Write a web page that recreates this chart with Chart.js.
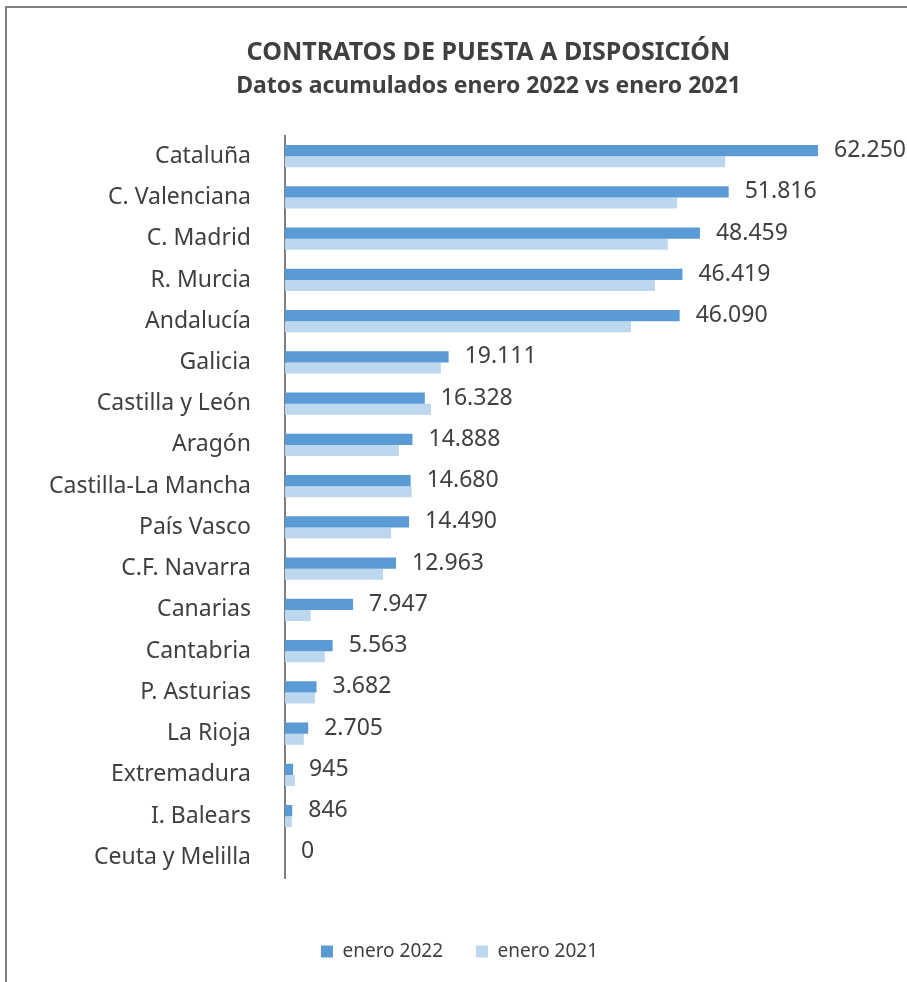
<!DOCTYPE html>
<html>
<head>
<meta charset="utf-8">
<script src="https://cdn.jsdelivr.net/npm/chart.js@4.4.1/dist/chart.umd.min.js"></script>
<style>
  html, body { margin: 0; padding: 0; background: #fff; overflow: hidden; }
  #frame {
    position: absolute; left: 5px; top: 6px;
    width: 963px; height: 1000px;
    border: 2px solid #7f7f7f; background: #fff;
  }
  #contractsChart { display: block; }
</style>
</head>
<body>
<div id="frame"><canvas id="contractsChart"></canvas></div>
<script>
const regions = [
  "Cataluña", "C. Valenciana", "C. Madrid", "R. Murcia", "Andalucía",
  "Galicia", "Castilla y León", "Aragón", "Castilla-La Mancha", "País Vasco",
  "C.F. Navarra", "Canarias", "Cantabria", "P. Asturias", "La Rioja",
  "Extremadura", "I. Balears", "Ceuta y Melilla"
];
const enero2022 = [62250, 51816, 48459, 46419, 46090, 19111, 16328, 14888, 14680, 14490, 12963, 7947, 5563, 3682, 2705, 945, 846, 0];
const enero2021 = [51400, 45800, 44700, 43200, 40400, 18200, 17050, 13300, 14800, 12400, 11450, 3000, 4650, 3500, 2200, 1150, 800, 0];
const seriesNames = ["enero 2022", "enero 2021"];

const textColor = "#404040";
const fontFamily = '"Noto Sans", sans-serif';

// 62250 -> "62.250", 846 -> "846"
function fmt(v) {
  return String(v).replace(/\B(?=(\d{3})+(?!\d))/g, ".");
}

// values written at the end of the 2022 bars
const valueLabels = {
  id: "valueLabels",
  afterDatasetsDraw(chart) {
    const ctx = chart.ctx;
    const meta = chart.getDatasetMeta(0);
    ctx.save();
    ctx.font = "23px " + fontFamily;
    ctx.fillStyle = textColor;
    ctx.textBaseline = "middle";
    meta.data.forEach((bar, i) => {
      ctx.fillText(fmt(enero2022[i]), bar.x + 16, bar.y);
    });
    ctx.restore();
  }
};

// legend sits a bit left of the title and lower than chart.js puts it
const shiftLegend = {
  id: "shiftLegend",
  afterLayout(chart) {
    const lg = chart.legend;
    lg.left -= 29;
    lg.right -= 29;
    lg.top += 31;
    lg.bottom += 31;
  }
};

const canvas = document.getElementById("contractsChart");
canvas.width = 963;
canvas.height = 990;
canvas.style.width = "963px";
canvas.style.height = "990px";

new Chart(canvas.getContext("2d"), {
  type: "bar",
  data: {
    labels: regions,
    datasets: [
      {
        label: seriesNames[0],
        data: enero2022,
        backgroundColor: "#5b9bd5"
      },
      {
        label: seriesNames[1],
        data: enero2021,
        backgroundColor: "#bdd7ee"
      }
    ]
  },
  options: {
    indexAxis: "y",
    responsive: false,
    animation: false,
    layout: {
      padding: { left: 0, right: 0, top: 0, bottom: 58 }
    },
    datasets: {
      bar: {
        categoryPercentage: 0.54,
        barPercentage: 1
      }
    },
    scales: {
      x: {
        display: false,
        min: 0,
        max: 80000
      },
      y: {
        grid: { display: false },
        border: { display: true, color: "#7f7f7f", width: 2 },
        ticks: {
          color: textColor,
          padding: 26,
          font: { family: fontFamily, size: 23 }
        },
        afterFit(scale) {
          scale.width = 278;
        }
      }
    },
    plugins: {
      title: {
        display: true,
        text: "CONTRATOS DE PUESTA A DISPOSICIÓN",
        color: textColor,
        font: { family: fontFamily, size: 25, weight: "bold" },
        padding: { top: 30, bottom: 1 }
      },
      subtitle: {
        display: true,
        text: "Datos acumulados enero 2022 vs enero 2021",
        color: textColor,
        font: { family: fontFamily, size: 23, weight: "bold" },
        padding: { top: 4, bottom: 35 }
      },
      legend: {
        position: "bottom",
        labels: {
          color: textColor,
          boxWidth: 12,
          boxHeight: 12,
          padding: 33,
          font: { family: fontFamily, size: 19 }
        }
      },
      tooltip: { enabled: false }
    }
  },
  plugins: [valueLabels, shiftLegend]
});
</script>
</body>
</html>
